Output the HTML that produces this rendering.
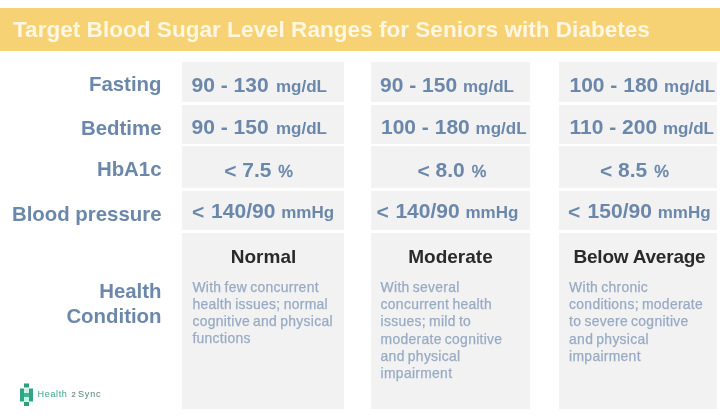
<!DOCTYPE html>
<html><head><meta charset="utf-8"><style>
html,body{margin:0;padding:0;width:720px;height:419px;overflow:hidden;background:#ffffff;}
.t{position:absolute;white-space:nowrap;font-family:"Liberation Sans",sans-serif;}
.r{position:absolute;}
#w{position:absolute;left:0;top:0;width:720px;height:419px;filter:blur(0.45px);}
</style></head><body><div id="w">
<div class="r" style="left:0px;top:8px;width:720px;height:43px;background:#f6d274"></div>
<div class="t" style="left:13px;top:19.19px;font-size:22.58px;line-height:22.58px;font-weight:bold;color:#fff7e0;">Target Blood Sugar Level Ranges for Seniors with Diabetes</div>
<div class="r" style="left:182px;top:62px;width:162px;height:40px;background:#f2f2f2"></div>
<div class="r" style="left:182px;top:105px;width:162px;height:39px;background:#f2f2f2"></div>
<div class="r" style="left:182px;top:146px;width:162px;height:42px;background:#f2f2f2"></div>
<div class="r" style="left:182px;top:191px;width:162px;height:39px;background:#f2f2f2"></div>
<div class="r" style="left:182px;top:233px;width:162px;height:176px;background:#f2f2f2"></div>
<div class="r" style="left:371px;top:62px;width:159px;height:40px;background:#f2f2f2"></div>
<div class="r" style="left:371px;top:105px;width:159px;height:39px;background:#f2f2f2"></div>
<div class="r" style="left:371px;top:146px;width:159px;height:42px;background:#f2f2f2"></div>
<div class="r" style="left:371px;top:191px;width:159px;height:39px;background:#f2f2f2"></div>
<div class="r" style="left:371px;top:233px;width:159px;height:176px;background:#f2f2f2"></div>
<div class="r" style="left:559px;top:62px;width:158px;height:40px;background:#f2f2f2"></div>
<div class="r" style="left:559px;top:105px;width:158px;height:39px;background:#f2f2f2"></div>
<div class="r" style="left:559px;top:146px;width:158px;height:42px;background:#f2f2f2"></div>
<div class="r" style="left:559px;top:191px;width:158px;height:39px;background:#f2f2f2"></div>
<div class="r" style="left:559px;top:233px;width:158px;height:176px;background:#f2f2f2"></div>
<div class="t" style="right:558.5px;text-align:right;top:74.03px;font-size:20.4px;line-height:20.4px;font-weight:bold;color:#6b87aa;">Fasting</div>
<div class="t" style="right:558.5px;text-align:right;top:117.83px;font-size:20.4px;line-height:20.4px;font-weight:bold;color:#6b87aa;">Bedtime</div>
<div class="t" style="right:558.5px;text-align:right;top:159.03px;font-size:20.4px;line-height:20.4px;font-weight:bold;color:#6b87aa;">HbA1c</div>
<div class="t" style="right:558.5px;text-align:right;top:204.33px;font-size:20.4px;line-height:20.4px;font-weight:bold;color:#6b87aa;">Blood pressure</div>
<div class="t" style="right:558.5px;text-align:right;top:280.93px;font-size:20.4px;line-height:20.4px;font-weight:bold;color:#6b87aa;">Health</div>
<div class="t" style="right:558.5px;text-align:right;top:305.63px;font-size:20.4px;line-height:20.4px;font-weight:bold;color:#6b87aa;">Condition</div>
<div class="t" style="left:191.5px;top:74.22px;font-size:21px;line-height:21px;font-weight:bold;color:#6b87aa">90 - 130 <span style="font-size:17px;margin-left:1.5px;">mg/dL</span></div>
<div class="t" style="left:191.5px;top:116.12px;font-size:21px;line-height:21px;font-weight:bold;color:#6b87aa">90 - 150 <span style="font-size:17px;margin-left:1.5px;">mg/dL</span></div>
<div class="t" style="left:224.2px;top:158.62px;font-size:21px;line-height:21px;font-weight:bold;color:#6b87aa"><span style='position:relative;top:1px'>&lt;</span> 7.5 <span style="font-size:16.5px;margin-left:1px;font-weight:normal;-webkit-text-stroke:0.5px #6b87aa;">%</span></div>
<div class="t" style="left:192px;top:199.52px;font-size:21px;line-height:21px;font-weight:bold;color:#6b87aa"><span style='position:relative;top:1px'>&lt;</span><span style='margin-right:1px'> </span>140/90 <span style="font-size:17px;margin-left:0px;">mmHg</span></div>
<div class="t" style="left:380px;top:74.22px;font-size:21px;line-height:21px;font-weight:bold;color:#6b87aa">90 - 150 <span style="font-size:17px;margin-left:0px;">mg/dL</span></div>
<div class="t" style="left:381px;top:116.12px;font-size:21px;line-height:21px;font-weight:bold;color:#6b87aa">100 - 180 <span style="font-size:17px;margin-left:0px;">mg/dL</span></div>
<div class="t" style="left:417.5px;top:158.82px;font-size:21px;line-height:21px;font-weight:bold;color:#6b87aa"><span style='position:relative;top:1px'>&lt;</span> 8.0 <span style="font-size:16.5px;margin-left:1px;font-weight:normal;-webkit-text-stroke:0.5px #6b87aa;">%</span></div>
<div class="t" style="left:376.5px;top:199.52px;font-size:21px;line-height:21px;font-weight:bold;color:#6b87aa"><span style='position:relative;top:1px'>&lt;</span><span style='margin-right:0.8px'> </span>140/90 <span style="font-size:17px;margin-left:0px;">mmHg</span></div>
<div class="t" style="left:569.5px;top:74.22px;font-size:21px;line-height:21px;font-weight:bold;color:#6b87aa">100 - 180 <span style="font-size:17px;margin-left:0px;">mg/dL</span></div>
<div class="t" style="left:569.5px;top:116.12px;font-size:21px;line-height:21px;font-weight:bold;color:#6b87aa">110 - 200 <span style="font-size:17px;margin-left:0px;">mg/dL</span></div>
<div class="t" style="left:600px;top:159.12px;font-size:21px;line-height:21px;font-weight:bold;color:#6b87aa"><span style='position:relative;top:1px'>&lt;</span> 8.5 <span style="font-size:16.5px;margin-left:1px;font-weight:normal;-webkit-text-stroke:0.5px #6b87aa;">%</span></div>
<div class="t" style="left:568px;top:199.52px;font-size:21px;line-height:21px;font-weight:bold;color:#6b87aa"><span style='position:relative;top:1px'>&lt;</span><span style='margin-right:1.5px'> </span>150/90 <span style="font-size:17px;margin-left:0px;">mmHg</span></div>
<div class="t" style="left:182px;width:163px;text-align:center;top:247.42px;font-size:19px;line-height:19px;font-weight:bold;color:#2a2a2a;letter-spacing:0px">Normal</div>
<div class="t" style="left:371px;width:159px;text-align:center;top:247.42px;font-size:19px;line-height:19px;font-weight:bold;color:#2a2a2a;letter-spacing:0px">Moderate</div>
<div class="t" style="left:559px;width:161px;text-align:center;top:247.42px;font-size:19px;line-height:19px;font-weight:bold;color:#2a2a2a;letter-spacing:-0.22px">Below Average</div>
<div class="t" style="left:192.4px;top:280.53px;font-size:13.9px;line-height:13.9px;font-weight:normal;color:#98abc4;letter-spacing:0.3px;word-spacing:-1px;-webkit-text-stroke:0.25px #98abc4;">With few concurrent</div>
<div class="t" style="left:192.4px;top:297.83px;font-size:13.9px;line-height:13.9px;font-weight:normal;color:#98abc4;letter-spacing:0.3px;word-spacing:-1px;-webkit-text-stroke:0.25px #98abc4;">health issues; normal</div>
<div class="t" style="left:192.4px;top:315.13px;font-size:13.9px;line-height:13.9px;font-weight:normal;color:#98abc4;letter-spacing:0.3px;word-spacing:-1px;-webkit-text-stroke:0.25px #98abc4;">cognitive and physical</div>
<div class="t" style="left:192.4px;top:332.43px;font-size:13.9px;line-height:13.9px;font-weight:normal;color:#98abc4;letter-spacing:0.3px;word-spacing:-1px;-webkit-text-stroke:0.25px #98abc4;">functions</div>
<div class="t" style="left:380.6px;top:280.73px;font-size:13.9px;line-height:13.9px;font-weight:normal;color:#98abc4;letter-spacing:0.3px;word-spacing:-1px;-webkit-text-stroke:0.25px #98abc4;">With several</div>
<div class="t" style="left:380.6px;top:298.03px;font-size:13.9px;line-height:13.9px;font-weight:normal;color:#98abc4;letter-spacing:0.3px;word-spacing:-1px;-webkit-text-stroke:0.25px #98abc4;">concurrent health</div>
<div class="t" style="left:380.6px;top:315.33px;font-size:13.9px;line-height:13.9px;font-weight:normal;color:#98abc4;letter-spacing:0.3px;word-spacing:-1px;-webkit-text-stroke:0.25px #98abc4;">issues; mild to</div>
<div class="t" style="left:380.6px;top:332.63px;font-size:13.9px;line-height:13.9px;font-weight:normal;color:#98abc4;letter-spacing:0.3px;word-spacing:-1px;-webkit-text-stroke:0.25px #98abc4;">moderate cognitive</div>
<div class="t" style="left:380.6px;top:349.93px;font-size:13.9px;line-height:13.9px;font-weight:normal;color:#98abc4;letter-spacing:0.3px;word-spacing:-1px;-webkit-text-stroke:0.25px #98abc4;">and physical</div>
<div class="t" style="left:380.6px;top:367.23px;font-size:13.9px;line-height:13.9px;font-weight:normal;color:#98abc4;letter-spacing:0.3px;word-spacing:-1px;-webkit-text-stroke:0.25px #98abc4;">impairment</div>
<div class="t" style="left:569.1px;top:280.73px;font-size:13.9px;line-height:13.9px;font-weight:normal;color:#98abc4;letter-spacing:0.3px;word-spacing:-1px;-webkit-text-stroke:0.25px #98abc4;">With chronic</div>
<div class="t" style="left:569.1px;top:298.03px;font-size:13.9px;line-height:13.9px;font-weight:normal;color:#98abc4;letter-spacing:0.3px;word-spacing:-1px;-webkit-text-stroke:0.25px #98abc4;">conditions; moderate</div>
<div class="t" style="left:569.1px;top:315.33px;font-size:13.9px;line-height:13.9px;font-weight:normal;color:#98abc4;letter-spacing:0.3px;word-spacing:-1px;-webkit-text-stroke:0.25px #98abc4;">to severe cognitive</div>
<div class="t" style="left:569.1px;top:332.63px;font-size:13.9px;line-height:13.9px;font-weight:normal;color:#98abc4;letter-spacing:0.3px;word-spacing:-1px;-webkit-text-stroke:0.25px #98abc4;">and physical</div>
<div class="t" style="left:569.1px;top:349.93px;font-size:13.9px;line-height:13.9px;font-weight:normal;color:#98abc4;letter-spacing:0.3px;word-spacing:-1px;-webkit-text-stroke:0.25px #98abc4;">impairment</div>
<svg style="position:absolute;left:19px;top:383px" width="15" height="24" viewBox="0 0 15 24">
<rect x="5" y="0.5" width="5" height="4" fill="#2f9e7c"/>
<rect x="1" y="5.5" width="4" height="13" fill="#30a484"/>
<rect x="10" y="5.5" width="4" height="13" fill="#30a484"/>
<rect x="5" y="5.5" width="5" height="4.5" fill="#c4f3e3"/>
<rect x="5" y="10" width="5" height="4" fill="#3fb592"/>
<rect x="5" y="14" width="5" height="4.5" fill="#c4f3e3"/>
<rect x="5" y="19" width="5" height="4" fill="#2f9e7c"/>
</svg>
<div class="t" style="left:37.6px;top:389.98px;font-size:9px;line-height:9px;color:#4fae94;font-weight:normal;letter-spacing:0.65px;-webkit-text-stroke:0.1px #4fae94">Health</div>
<div class="t" style="left:71.5px;top:391.25px;font-size:7.5px;line-height:7.5px;color:#708a85;font-weight:normal;-webkit-text-stroke:0.2px #708a85">2</div>
<div class="t" style="left:78px;top:389.98px;font-size:9px;line-height:9px;color:#70908a;font-weight:normal;letter-spacing:0.85px;-webkit-text-stroke:0.1px #70908a">Sync</div>
</div></body></html>
